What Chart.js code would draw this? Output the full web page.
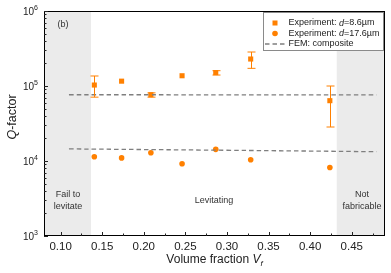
<!DOCTYPE html>
<html>
<head>
<meta charset="utf-8">
<script src="https://cdn.jsdelivr.net/npm/chart.js@4.4.1/dist/chart.umd.min.js"></script>
<style>
  html, body { margin: 0; padding: 0; background: #fff; }
  #wrap { width: 391px; height: 273px; }
</style>
</head>
<body>
<div id="wrap"><canvas id="qChart" width="391" height="273"></canvas></div>
<script>
// Data
const thinX = [0.1405, 0.1733, 0.2085, 0.246, 0.2865, 0.3285, 0.4237];
const thinQ = [103000, 116000, 76500, 137000, 151000, 229000, 63700];
const thinErrLow = [71000, null, 71000, null, 140000, 172000, 28400];
const thinErrHigh = [136000, null, 81000, null, 160000, 284000, 100000];

const thickX = [0.1405, 0.1733, 0.2085, 0.246, 0.2865, 0.3285, 0.4237];
const thickQ = [11400, 11000, 12900, 9200, 14300, 10400, 8200];

const femX = [0.11, 0.30, 0.48];
const femUpper = [76500, 76300, 76000];
const femLower = [14500, 13900, 13300];

const xTicks = [0.10, 0.15, 0.20, 0.25, 0.30, 0.35, 0.40, 0.45];
const yTicks = [1e3, 1e4, 1e5, 1e6];

// shaded regions: [from, to]
const failRegion = [0.08, 0.1365];
const notFabRegion = [0.432, 0.49];

const ORANGE = '#ff8000';
const GRAY = '#7f7f7f';
const FONT = '"Liberation Sans", Arial, sans-serif';

function pts(xs, ys) {
    return xs.map((x, i) => ({ x: x, y: ys[i] }));
}

// Background shading, frame, ticks, labels, error bars, legend
const decor = {
    id: 'decor',
    beforeDatasetsDraw(chart) {
        const ctx = chart.ctx;
        const a = chart.chartArea;
        const xs = chart.scales.x;
        ctx.save();
        ctx.fillStyle = '#ebebeb';
        [failRegion, notFabRegion].forEach(r => {
            const x0 = xs.getPixelForValue(r[0]);
            const x1 = xs.getPixelForValue(r[1]);
            ctx.fillRect(x0, a.top, x1 - x0, a.bottom - a.top);
        });
        ctx.restore();
    },
    afterDatasetsDraw(chart) {
        const ctx = chart.ctx;
        const a = chart.chartArea;
        const xs = chart.scales.x;
        const ys = chart.scales.y;
        ctx.save();

        // error bars
        ctx.strokeStyle = ORANGE;
        ctx.lineWidth = 1;
        thinX.forEach((x, i) => {
            if (thinErrLow[i] == null) return;
            const px = Math.round(xs.getPixelForValue(x)) + 0.5;
            const yl = ys.getPixelForValue(thinErrLow[i]);
            const yh = ys.getPixelForValue(thinErrHigh[i]);
            ctx.beginPath();
            ctx.moveTo(px, yl); ctx.lineTo(px, yh);
            ctx.moveTo(px - 4, yl); ctx.lineTo(px + 4, yl);
            ctx.moveTo(px - 4, yh); ctx.lineTo(px + 4, yh);
            ctx.stroke();
        });

        // frame
        ctx.strokeStyle = '#000';
        ctx.lineWidth = 1;
        ctx.strokeRect(a.left + 0.5, a.top + 0.5, a.right - a.left - 1, a.bottom - a.top - 1);

        // x ticks (inward)
        ctx.strokeStyle = '#222';
        ctx.beginPath();
        xTicks.forEach((t, i) => {
            const px = Math.round(xs.getPixelForValue(t)) + 0.5;
            ctx.moveTo(px, a.bottom); ctx.lineTo(px, a.bottom - 4);
            const mid = t + 0.025;
            if (mid < xs.max) {
                const pm = Math.round(xs.getPixelForValue(mid)) + 0.5;
                ctx.moveTo(pm, a.bottom); ctx.lineTo(pm, a.bottom - 2.5);
            }
        });
        // y ticks (inward), log minors
        yTicks.forEach(t => {
            const py = Math.round(ys.getPixelForValue(t)) + 0.5;
            ctx.moveTo(a.left, py); ctx.lineTo(a.left + 4, py);
            if (t < ys.max) {
                for (let m = 2; m <= 9; m++) {
                    const pm = Math.round(ys.getPixelForValue(t * m)) + 0.5;
                    ctx.moveTo(a.left, pm); ctx.lineTo(a.left + 2.5, pm);
                }
            }
        });
        ctx.stroke();

        // x tick labels
        ctx.fillStyle = '#222';
        ctx.font = '11.5px ' + FONT;
        ctx.textAlign = 'center';
        ctx.textBaseline = 'middle';
        xTicks.forEach(t => {
            ctx.fillText(t.toFixed(2), xs.getPixelForValue(t), 247);
        });

        // y tick labels 10^n
        yTicks.forEach(t => {
            const py = ys.getPixelForValue(t);
            const exp = String(Math.round(Math.log10(t)));
            ctx.font = '7px ' + FONT;
            const ew = ctx.measureText(exp).width;
            ctx.textAlign = 'right';
            ctx.textBaseline = 'alphabetic';
            ctx.fillText(exp, 38, py - 1);
            ctx.font = '10px ' + FONT;
            ctx.fillText('10', 38 - ew, py + 4);
        });

        // axis titles
        ctx.font = '12px ' + FONT;
        ctx.textBaseline = 'middle';
        ctx.textAlign = 'left';
        const t1 = 'Volume fraction ';
        ctx.font = 'italic 12px ' + FONT;
        const wV = ctx.measureText('V').width;
        ctx.font = 'italic 8px ' + FONT;
        const wf = ctx.measureText('f').width;
        ctx.font = '12px ' + FONT;
        const w1 = ctx.measureText(t1).width;
        let sx = (a.left + a.right) / 2 - (w1 + wV + wf) / 2;
        ctx.fillText(t1, sx, 260);
        ctx.font = 'italic 12px ' + FONT;
        ctx.fillText('V', sx + w1, 260);
        ctx.font = 'italic 8px ' + FONT;
        ctx.fillText('f', sx + w1 + wV, 264);

        ctx.save();
        ctx.translate(13, 117);
        ctx.rotate(-Math.PI / 2);
        ctx.font = 'italic 12.5px ' + FONT;
        const wQ = ctx.measureText('Q').width;
        ctx.font = '12.5px ' + FONT;
        const wRest = ctx.measureText('-factor').width;
        ctx.textAlign = 'left';
        ctx.font = 'italic 12.5px ' + FONT;
        ctx.fillText('Q', -(wQ + wRest) / 2, 0);
        ctx.font = '12.5px ' + FONT;
        ctx.fillText('-factor', -(wQ + wRest) / 2 + wQ, 0);
        ctx.restore();

        // region annotations
        ctx.fillStyle = '#333';
        ctx.font = '9px ' + FONT;
        ctx.textAlign = 'center';
        ctx.fillText('(b)', 63, 25);
        ctx.fillText('Fail to', 68, 195);
        ctx.fillText('levitate', 68, 207);
        ctx.fillText('Levitating', 214, 201);
        ctx.fillText('Not', 362, 194.5);
        ctx.fillText('fabricable', 362, 207);

        // legend
        const lx = 263.5, ly = 12.5, lw = 120, lh = 38;
        ctx.fillStyle = '#fff';
        ctx.fillRect(lx, ly, lw, lh);
        ctx.strokeStyle = '#8a8a8a';
        ctx.lineWidth = 1;
        ctx.strokeRect(lx, ly, lw, lh);

        const rows = [23, 33.5, 44];
        ctx.fillStyle = ORANGE;
        ctx.fillRect(272.5, rows[0] - 2.5, 5, 5);
        ctx.beginPath();
        ctx.arc(275, rows[1], 2.8, 0, Math.PI * 2);
        ctx.fill();
        ctx.strokeStyle = GRAY;
        ctx.lineWidth = 1.3;
        ctx.setLineDash([4.5, 3]);
        ctx.beginPath();
        ctx.moveTo(265, rows[2]); ctx.lineTo(287, rows[2]);
        ctx.stroke();
        ctx.setLineDash([]);

        ctx.fillStyle = '#222';
        ctx.textAlign = 'left';
        const legendText = [
            ['Experiment: ', 'd', '=8.6\u00b5m'],
            ['Experiment: ', 'd', '=17.6\u00b5m'],
            ['FEM: composite', '', '']
        ];
        legendText.forEach((parts, i) => {
            let tx = 288.5;
            ctx.font = '9px ' + FONT;
            ctx.fillText(parts[0], tx, rows[i]);
            tx += ctx.measureText(parts[0]).width;
            if (parts[1]) {
                ctx.font = 'italic 9px ' + FONT;
                ctx.fillText(parts[1], tx, rows[i]);
                tx += ctx.measureText(parts[1]).width;
                ctx.font = '9px ' + FONT;
                ctx.fillText(parts[2], tx, rows[i]);
            }
        });

        ctx.restore();
    }
};

new Chart(document.getElementById('qChart'), {
    type: 'scatter',
    data: {
        datasets: [
            {
                label: 'FEM upper',
                data: pts(femX, femUpper),
                showLine: true,
                borderColor: GRAY,
                borderWidth: 1.3,
                borderDash: [4.5, 3],
                pointRadius: 0,
                tension: 0.4
            },
            {
                label: 'FEM lower',
                data: pts(femX, femLower),
                showLine: true,
                borderColor: GRAY,
                borderWidth: 1.3,
                borderDash: [4.5, 3],
                pointRadius: 0,
                tension: 0.4
            },
            {
                label: 'Experiment: d=8.6um',
                data: pts(thinX, thinQ),
                pointStyle: 'rect',
                pointRadius: 3.6,
                backgroundColor: ORANGE,
                borderColor: ORANGE,
                borderWidth: 0
            },
            {
                label: 'Experiment: d=17.6um',
                data: pts(thickX, thickQ),
                pointStyle: 'circle',
                pointRadius: 2.8,
                backgroundColor: ORANGE,
                borderColor: ORANGE,
                borderWidth: 0
            }
        ]
    },
    options: {
        responsive: false,
        animation: false,
        devicePixelRatio: 1,
        layout: { padding: { left: 44, top: 11, right: 6, bottom: 37 } },
        plugins: {
            legend: { display: false },
            tooltip: { enabled: false }
        },
        scales: {
            x: { type: 'linear', min: 0.08, max: 0.49, display: false },
            y: { type: 'logarithmic', min: 1e3, max: 1e6, display: false }
        }
    },
    plugins: [decor]
});
</script>
</body>
</html>
